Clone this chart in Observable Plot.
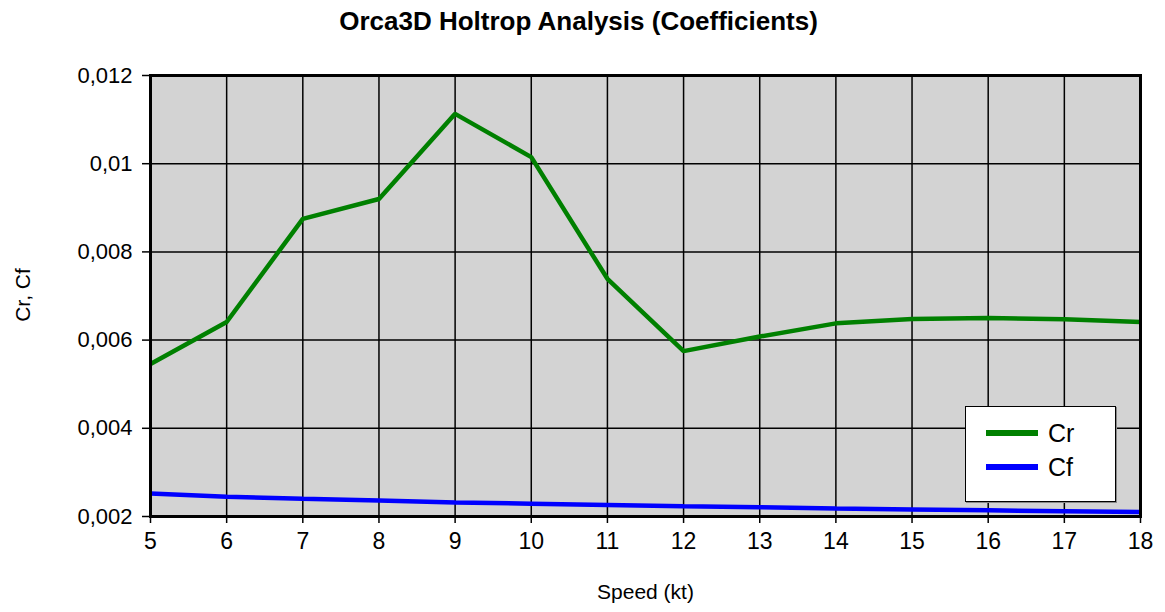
<!DOCTYPE html>
<html>
<head>
<meta charset="utf-8">
<script src="https://cdn.jsdelivr.net/npm/d3@7"></script>
<script src="https://cdn.jsdelivr.net/npm/@observablehq/plot@0.6"></script>
<style>
  html, body { margin: 0; padding: 0; background: #fff; }
  #wrap { position: relative; width: 1165px; height: 612px; font-family: "Liberation Sans", Arial, sans-serif; }
  #legend { position: absolute; left: 965px; top: 406px; width: 151px; height: 96px; background: #fff;
            border: 1.5px solid #000; box-shadow: 1px 1px 0 #888; box-sizing: border-box; }
  .item { position: absolute; left: 20px; height: 30px; display: flex; align-items: center; font-size: 25px; color: #000; }
  .sw { width: 52px; height: 6px; margin-right: 10px; }
</style>
</head>
<body>
<div id="wrap"></div>
<script>
const speeds = [5, 6, 7, 8, 9, 10, 11, 12, 13, 14, 15, 16, 17, 18];
const cr = [0.00546, 0.00641, 0.00875, 0.00920, 0.01113, 0.01015, 0.00739, 0.00575, 0.00608, 0.00638, 0.00648, 0.00650, 0.00647, 0.00641];
const cf = [0.00252, 0.00245, 0.00240, 0.00236, 0.00232, 0.00229, 0.00226, 0.00223, 0.00221, 0.00218, 0.00216, 0.00214, 0.00212, 0.00210];
const yTicks = [0.002, 0.004, 0.006, 0.008, 0.01, 0.012];
const xTicks = speeds;
const seriesNames = ["Cr", "Cf"];
const seriesColors = ["#008000", "#0000ff"];

const rows = [];
speeds.forEach((s, i) => {
  rows.push({speed: s, value: cr[i], series: "Cr"});
  rows.push({speed: s, value: cf[i], series: "Cf"});
});
const fmt = d => String(d).replace(".", ",");

const chart = Plot.plot({
  width: 1165,
  height: 612,
  marginLeft: 150,
  marginRight: 25,
  marginTop: 75,
  marginBottom: 96,
  style: {fontFamily: "'Liberation Sans', Arial, sans-serif", background: "#fff", color: "#000"},
  x: {domain: [5, 18]},
  y: {domain: [0.002, 0.012]},
  color: {domain: seriesNames, range: seriesColors},
  marks: [
    Plot.frame({fill: "#d3d3d3", stroke: null}),
    Plot.gridX(xTicks, {stroke: "#000", strokeOpacity: 1, strokeWidth: 1.5}),
    Plot.gridY(yTicks, {stroke: "#000", strokeOpacity: 1, strokeWidth: 1.5}),
    Plot.axisY(yTicks, {tickFormat: fmt, tickSize: 8, tickPadding: 10, fontSize: 22, label: null, strokeWidth: 1.5}),
    Plot.axisX(xTicks, {tickSize: 7, tickPadding: 9, fontSize: 23, label: null, strokeWidth: 1.5}),
    Plot.line(rows, {x: "speed", y: "value", z: "series", stroke: "series", strokeWidth: 4.5, strokeLinejoin: "miter", strokeLinecap: "butt"}),
    Plot.frame({stroke: "#000", strokeWidth: 3}),
    Plot.text(["Orca3D Holtrop Analysis (Coefficients)"], {frameAnchor: "top", dx: -67, dy: -64, fontSize: 26, fontWeight: "bold", fill: "#000"}),
    Plot.text(["Cr, Cf"], {frameAnchor: "left", textAnchor: "middle", dx: -127, dy: -1, rotate: -90, fontSize: 21, fill: "#000"}),
    Plot.text(["Speed (kt)"], {frameAnchor: "bottom", dy: 82, fontSize: 21, fill: "#000"})
  ]
});
const wrap = document.getElementById("wrap");
wrap.appendChild(chart);

const legend = document.createElement("div");
legend.id = "legend";
seriesNames.forEach((n, i) => {
  const it = document.createElement("div");
  it.className = "item";
  it.style.top = (11 + i * 34) + "px";
  const sw = document.createElement("div");
  sw.className = "sw";
  sw.style.background = seriesColors[i];
  const lab = document.createElement("span");
  lab.textContent = n;
  it.appendChild(sw);
  it.appendChild(lab);
  legend.appendChild(it);
});
wrap.appendChild(legend);
</script>
</body>
</html>
